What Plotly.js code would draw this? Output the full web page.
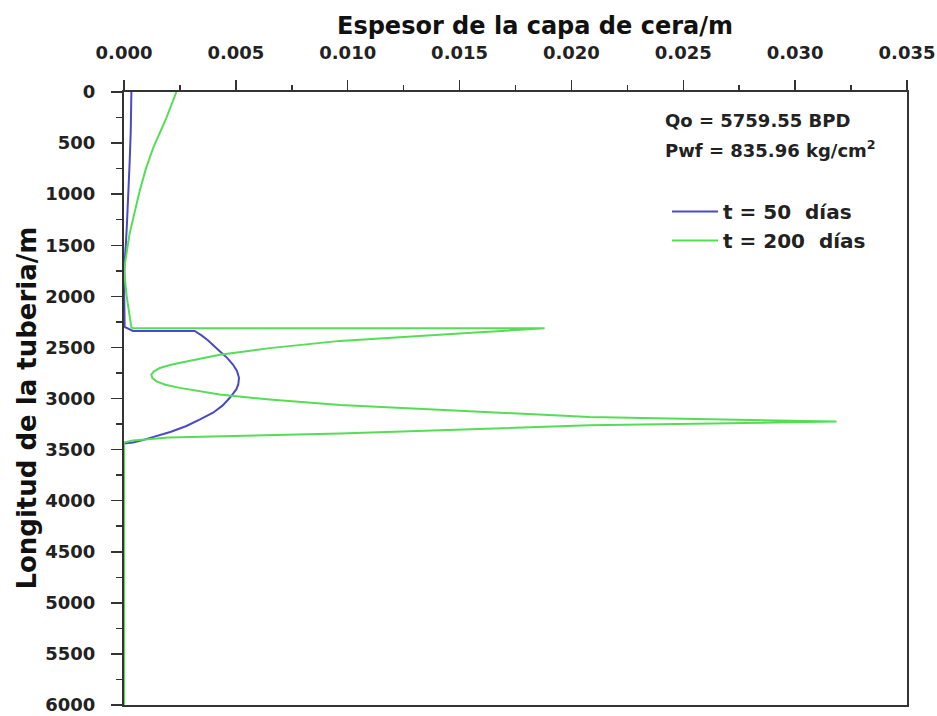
<!DOCTYPE html>
<html>
<head>
<meta charset="utf-8">
<script src="https://cdn.plot.ly/plotly-3.0.1.min.js"></script>
<style>html,body{margin:0;padding:0;background:#fff;}#chart{width:937px;height:716px;}</style>
</head>
<body>
<div id="chart"></div>
<script>
// t = 50 días : longitud (m) and espesor (m)
const depth50 = [0, 200, 400, 700, 1000, 1300, 1500, 1700, 2000, 2300, 2339, 2339, 2380, 2430, 2537, 2600, 2667, 2730, 2797, 2860, 2911, 2993, 3070, 3139, 3205, 3269, 3325, 3382, 3410, 3431, 3440, 4500, 6000];
const esp50   = [0.00033, 0.00032, 0.00030, 0.00025, 0.00020, 0.00013, 0.00008, 0.00002, 0.00001, 0.00003, 0.00040, 0.00316, 0.00345, 0.00375, 0.00428, 0.00460, 0.00487, 0.00505, 0.00514, 0.00511, 0.00502, 0.00473, 0.00440, 0.00398, 0.00340, 0.00279, 0.00210, 0.00130, 0.00080, 0.00040, 0.0, 0.0, 0.0];

// t = 200 días
const depth200 = [0, 250, 549, 750, 969, 1200, 1386, 1600, 1744, 2000, 2306, 2313, 2313, 2362, 2436, 2507, 2572, 2637, 2670, 2702, 2735, 2767, 2800, 2832, 2865, 2896, 2961, 3010, 3064, 3121, 3180, 3226, 3263, 3343, 3382, 3411, 3431, 4500, 6000];
const esp200   = [0.00234, 0.00190, 0.00130, 0.00098, 0.00070, 0.00045, 0.00025, 0.00010, 0.0, 0.00012, 0.00033, 0.00040, 0.01880, 0.01516, 0.00966, 0.00651, 0.00428, 0.00279, 0.00210, 0.00160, 0.00133, 0.00122, 0.00127, 0.00145, 0.00185, 0.00249, 0.00428, 0.00651, 0.00966, 0.01500, 0.02080, 0.03185, 0.02080, 0.00966, 0.00200, 0.00040, 0.0, 0.0, 0.0];

const seriesNames = ['t = 50\u00a0\u00a0días', 't = 200\u00a0\u00a0días'];
const xTitle = 'Espesor de la capa de cera/m';
const yTitle = 'Longitud de la tuberia/m';
const note1 = 'Qo = 5759.55 BPD';
const note2 = 'Pwf = 835.96 kg/cm<sup>2</sup>';

const FONT = 'DejaVu Sans, Verdana, sans-serif';

const traces = [
  {x: esp50, y: depth50, mode: 'lines', name: seriesNames[0],
   line: {color: '#4a4ac6', width: 2}},
  {x: esp200, y: depth200, mode: 'lines', name: seriesNames[1],
   line: {color: '#55dd55', width: 2}}
];

const layout = {
  width: 937, height: 716,
  margin: {l: 124, r: 30, t: 92, b: 11},
  paper_bgcolor: '#ffffff', plot_bgcolor: '#ffffff',
  font: {family: FONT, size: 18, color: '#222', weight: 'bold'},
  showlegend: true,
  legend: {x: 0.6935, y: 0.837, xanchor: 'left', yanchor: 'top',
    bgcolor: 'rgba(0,0,0,0)', borderwidth: 0, itemwidth: 46,
    font: {family: FONT, size: 20, color: '#222', weight: 'bold'}},
  xaxis: {
    side: 'top', range: [0, 0.035], tickmode: 'linear', tick0: 0, dtick: 0.005,
    tickformat: '.3f', ticks: 'outside', ticklen: 10, tickwidth: 1.5, tickcolor: '#333',
    ticklabelstandoff: 14, ticklabeloverflow: 'allow',
    minor: {tickmode: 'linear', tick0: 0, dtick: 0.0025, ticks: 'outside', ticklen: 5, tickwidth: 1.5, tickcolor: '#333'},
    showline: true, linecolor: '#333', linewidth: 2, mirror: true,
    showgrid: false, zeroline: false,
    tickfont: {family: FONT, size: 18, color: '#222', weight: 'bold'}
  },
  yaxis: {
    range: [6000, 0], tickmode: 'linear', tick0: 0, dtick: 500,
    ticks: 'outside', ticklen: 11, tickwidth: 1.5, tickcolor: '#333',
    ticklabelstandoff: 12, ticklabeloverflow: 'allow',
    minor: {tickmode: 'linear', tick0: 0, dtick: 250, ticks: 'outside', ticklen: 6, tickwidth: 1.5, tickcolor: '#333'},
    showline: true, linecolor: '#333', linewidth: 2, mirror: true,
    showgrid: false, zeroline: false,
    tickfont: {family: FONT, size: 18, color: '#222', weight: 'bold'}
  },
  annotations: [
    {text: xTitle, xref: 'paper', yref: 'paper', x: 0.525, y: 1.108, xanchor: 'center', yanchor: 'middle',
     showarrow: false, font: {family: FONT, size: 24, color: '#111', weight: 'bold'}},
    {text: yTitle, xref: 'paper', yref: 'paper', x: -0.124, y: 0.485, xanchor: 'center', yanchor: 'middle',
     textangle: -90, showarrow: false, font: {family: FONT, size: 26, color: '#111', weight: 'bold'}},
    {text: note1, xref: 'paper', yref: 'paper', x: 0.688, y: 0.9535, xanchor: 'left', yanchor: 'middle',
     showarrow: false, font: {family: FONT, size: 18, color: '#222', weight: 'bold'}},
    {text: note2, xref: 'paper', yref: 'paper', x: 0.688, y: 0.9075, xanchor: 'left', yanchor: 'middle',
     showarrow: false, font: {family: FONT, size: 18, color: '#222', weight: 'bold'}}
  ]
};

Plotly.newPlot('chart', traces, layout, {displayModeBar: false, staticPlot: true});
</script>
</body>
</html>
